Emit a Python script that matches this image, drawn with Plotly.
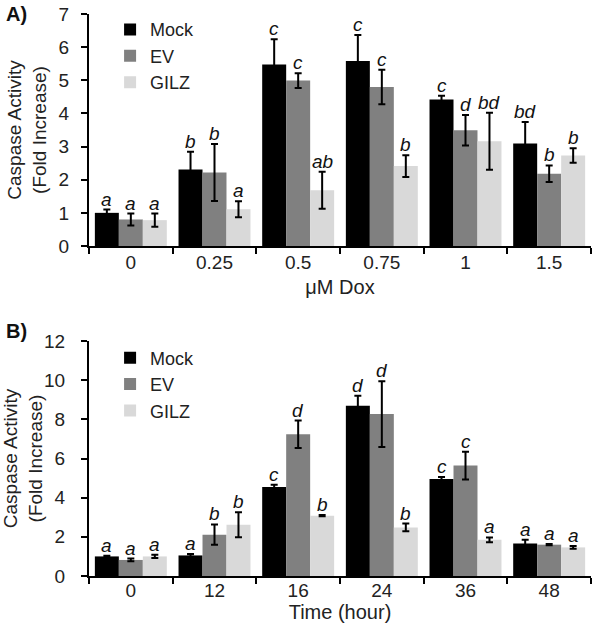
import plotly.graph_objects as go

# ---------------- data ----------------
dox_labels = ["0", "0.25", "0.5", "0.75", "1", "1.5"]
a_mock = [1.00, 2.31, 5.48, 5.58, 4.42, 3.09]
a_mock_err = [0.10, 0.53, 0.76, 0.79, 0.11, 0.65]
a_ev = [0.80, 2.22, 4.99, 4.80, 3.49, 2.18]
a_ev_err = [0.18, 0.86, 0.22, 0.52, 0.46, 0.25]
a_gilz = [0.78, 1.11, 1.68, 2.41, 3.16, 2.73]
a_gilz_err = [0.20, 0.24, 0.56, 0.33, 0.86, 0.22]
a_letters_mock = ["a", "b", "c", "c", "c", "bd"]
a_letters_ev = ["a", "b", "c", "c", "d", "b"]
a_letters_gilz = ["a", "a", "ab", "b", "bd", "b"]

time_labels = ["0", "12", "16", "24", "36", "48"]
b_mock = [1.00, 1.05, 4.54, 8.69, 4.96, 1.66]
b_mock_err = [0.04, 0.07, 0.12, 0.52, 0.09, 0.19]
b_ev = [0.82, 2.11, 7.24, 8.27, 5.64, 1.60]
b_ev_err = [0.07, 0.52, 0.70, 1.68, 0.71, 0.03]
b_gilz = [1.00, 2.62, 3.08, 2.48, 1.85, 1.46]
b_gilz_err = [0.08, 0.64, 0.03, 0.20, 0.12, 0.07]
b_letters_mock = ["a", "a", "c", "d", "c", "a"]
b_letters_ev = ["a", "b", "d", "d", "c", "a"]
b_letters_gilz = ["a", "b", "b", "b", "a", "a"]

series_names = ["Mock", "EV", "GILZ"]
colors = ["#000000", "#808080", "#d9d9d9"]

FONT = "Arial, Liberation Sans, sans-serif"
TXT = "#222222"

fig = go.Figure()

panels = [
    ("x", "y", "legend", dox_labels,
     [a_mock, a_ev, a_gilz], [a_mock_err, a_ev_err, a_gilz_err],
     [a_letters_mock, a_letters_ev, a_letters_gilz]),
    ("x2", "y2", "legend2", time_labels,
     [b_mock, b_ev, b_gilz], [b_mock_err, b_ev_err, b_gilz_err],
     [b_letters_mock, b_letters_ev, b_letters_gilz]),
]

shifts = [-24, 0, 24]
annotations = []
for xa, ya, leg, cats, vals, errs, letters in panels:
    for i in range(3):
        fig.add_trace(go.Bar(
            x=cats, y=vals[i], name=series_names[i],
            marker=dict(color=colors[i], line=dict(width=0)),
            error_y=dict(type="data", array=errs[i], visible=True,
                         color="#000000", thickness=2, width=3.5),
            xaxis=xa, yaxis=ya, legend=leg, showlegend=True,
        ))
        for k, (v, e, t) in enumerate(zip(vals[i], errs[i], letters[i])):
            annotations.append(dict(
                x=k, y=v + e, xref=xa, yref=ya, text=t, showarrow=False,
                xshift=shifts[i], yanchor="bottom", yshift=-2,
                font=dict(family=FONT, size=19, color="#111111", style="italic"),
            ))

annotations.append(dict(x=-0.169, y=1.024, xref="paper", yref="paper", text="<b>A)</b>",
                        showarrow=False, xanchor="left", yanchor="top",
                        font=dict(family=FONT, size=20, color="#111111")))
annotations.append(dict(x=-0.169, y=0.459, xref="paper", yref="paper", text="<b>B)</b>",
                        showarrow=False, xanchor="left", yanchor="top",
                        font=dict(family=FONT, size=20, color="#111111")))

axis_common = dict(showline=True, linecolor="#000000", linewidth=2,
                   ticks="outside", tickcolor="#000000", tickwidth=2, ticklen=6,
                   showgrid=False, zeroline=False, automargin=False,
                   tickfont=dict(family=FONT, size=19, color=TXT))

def ytitle(standoff):
    return dict(text="Caspase Activity<br>(Fold Increase)",
                font=dict(family=FONT, size=19, color=TXT), standoff=standoff)

fig.update_layout(
    width=592, height=630,
    margin=dict(l=89, r=1, t=14, b=54, autoexpand=False),
    paper_bgcolor="white", plot_bgcolor="white",
    barmode="group", bargap=0.14, bargroupgap=0,
    font=dict(family=FONT, color=TXT),
    xaxis=dict(domain=[0, 1], anchor="y", type="category", range=[-0.5, 5.5],
               tickson="boundaries", ticklabelstandoff=-2,
               title=dict(text="μM Dox", font=dict(family=FONT, size=20, color=TXT), standoff=8),
               **axis_common),
    yaxis=dict(domain=[0.5872, 1.0], anchor="x", range=[0, 7], dtick=1,
               ticklabelstandoff=8, title=ytitle(7), **axis_common),
    xaxis2=dict(domain=[0, 1], anchor="y2", type="category", range=[-0.5, 5.5],
                tickson="boundaries", ticklabelstandoff=-4,
                title=dict(text="Time (hour)", font=dict(family=FONT, size=20, color=TXT), standoff=0),
                **axis_common),
    yaxis2=dict(domain=[0, 0.4181], anchor="x2", range=[0, 12], dtick=2,
                ticklabelstandoff=12, title=ytitle(0), **axis_common),
    legend=dict(x=0.042, y=1.005, xanchor="left", yanchor="top",
                font=dict(family=FONT, size=18, color=TXT),
                bgcolor="rgba(0,0,0,0)", itemclick=False),
    legend2=dict(x=0.042, y=0.4208, xanchor="left", yanchor="top",
                 font=dict(family=FONT, size=18, color=TXT),
                 bgcolor="rgba(0,0,0,0)", itemclick=False),
    annotations=annotations,
)

fig.write_html("out.html", config={"displayModeBar": False},
               post_script="document.body.style.margin='0px';")
